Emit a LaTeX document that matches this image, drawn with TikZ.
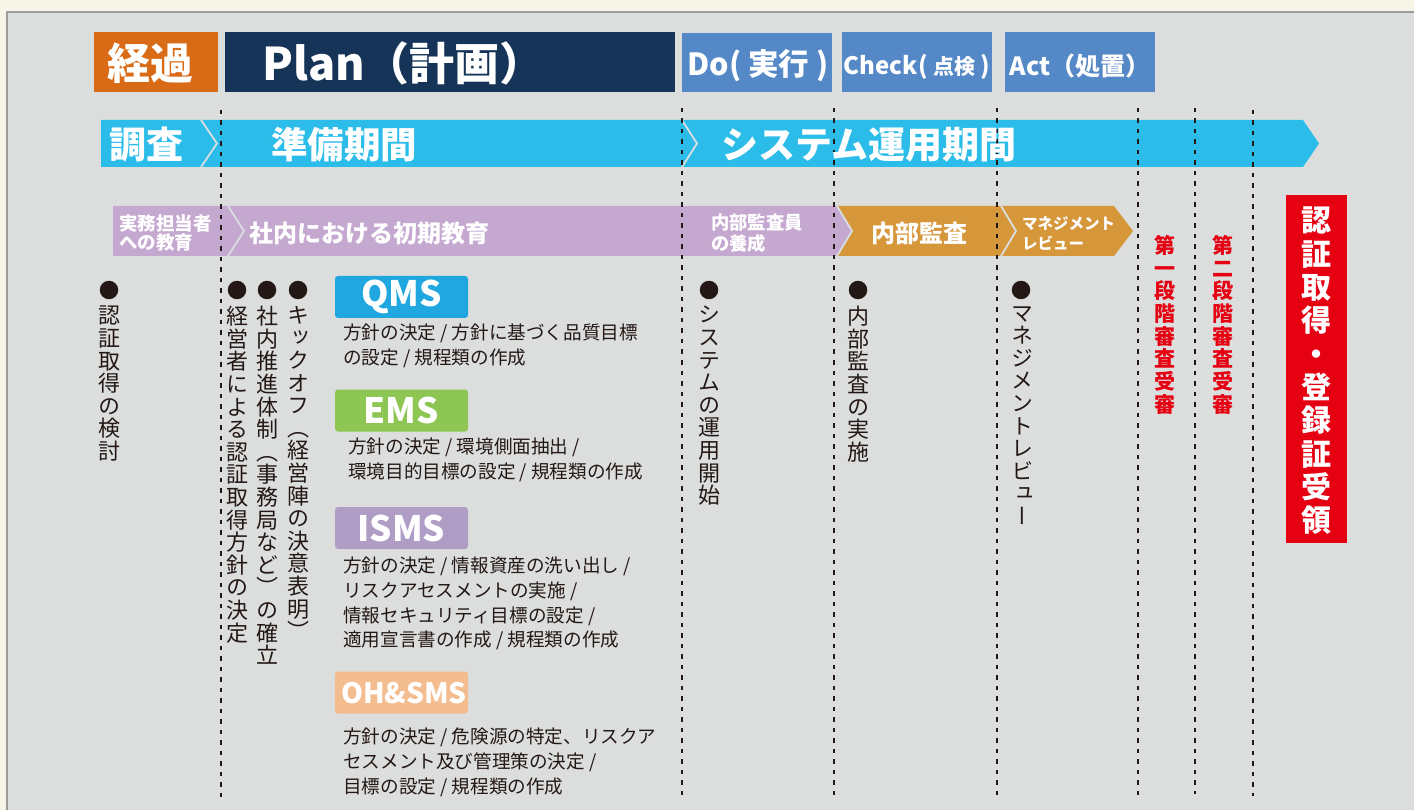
\documentclass[tikz,border=0pt]{standalone}
\usepackage{fontspec}
\setmainfont{Noto Sans CJK JP}
\newfontfamily\vjp{Noto Sans CJK JP}[RawFeature=+vert]
\definecolor{cream}{HTML}{F7F5E7}
\definecolor{panel}{HTML}{DCDEDD}
\definecolor{pborder}{HTML}{9C9C9A}
\definecolor{korange}{HTML}{DA6B16}
\definecolor{navy}{HTML}{163458}
\definecolor{pdcablue}{HTML}{5588C7}
\definecolor{cyanbar}{HTML}{2CBCEA}
\definecolor{purplebar}{HTML}{C5A8D0}
\definecolor{orangebar}{HTML}{D6963A}
\definecolor{sepcol}{HTML}{D9DEE0}
\definecolor{ink}{HTML}{231815}
\definecolor{qmscol}{HTML}{20A7DF}
\definecolor{emscol}{HTML}{8DC653}
\definecolor{ismscol}{HTML}{AF9DC6}
\definecolor{ohscol}{HTML}{F4BD8F}
\definecolor{certred}{HTML}{E50012}
\makeatletter
\newcommand\vstack[2]{\vbox{\baselineskip=#1\relax\lineskip=0pt\lineskiplimit=-\maxdimen\vstack@#2\relax}}
\def\vstack@#1{\ifx\relax#1\else\hbox to 1em{\hss#1\hss}\expandafter\vstack@\fi}
\makeatother
\newcommand\fs[2]{\fontsize{#1}{#2}\selectfont}
\begin{document}
\begin{tikzpicture}[x=1pt,y=-1pt,
  hdrbox/.style={draw=none,inner sep=0pt,minimum height=60pt},
  hdrtext/.style={inner sep=0pt,text=white,font=\bfseries},
  bartext/.style={inner sep=0pt,text=white,anchor=west,align=left,font=\bfseries},
  dline/.style={ink,line width=2.4pt,dash pattern=on 4.5pt off 6pt},
  sepline/.style={sepcol,line width=1.8pt},
  bulletdot/.style={circle,fill=ink,inner sep=0pt,minimum size=18.5pt},
  vlabel/.style={inner sep=0pt,anchor=north,text=ink},
  redlabel/.style={inner sep=0pt,anchor=north,text=certred},
  sysbox/.style={rounded corners=3pt,inner sep=0pt,minimum width=133pt,minimum height=42pt,text=white,font=\bfseries\fs{35}{35}},
  desc/.style={inner sep=0pt,anchor=north west,align=left,text=ink,font=\fs{18.6}{24.6}}
]
\useasboundingbox (0,0) rectangle (1414,810);
\fill[cream] (0,0) rectangle (1414,810);
\fill[panel] (7,12) rectangle (1414,810);
\draw[pborder,line width=2pt] (7,810) -- (7,12) -- (1414,12);

% header boxes
\node[hdrbox,fill=korange,minimum width=124pt] (keika) at (156,62) {};
\node[hdrtext,font=\bfseries\fs{43}{43}] (keikat) at (150,63) {経過};
\node[hdrbox,fill=navy,minimum width=450pt] (plan) at (450,62) {};
\node[hdrtext,anchor=west,font=\bfseries\fs{45}{45}] (plant) at (262,63) {Plan（計画）};
\node[hdrbox,fill=pdcablue,minimum width=150pt,minimum height=59pt] (do) at (757,62.5) {};
\node[hdrtext,font=\bfseries\fs{30.5}{30.5}] (dot) at (758,66) {Do( 実行 )};
\node[hdrbox,fill=pdcablue,minimum width=150pt] (check) at (917,62) {};
\node[hdrtext,font=\bfseries\fs{24}{24}] (checkt) at (917,67) {Check( {\fs{21}{21}点検} )};
\node[hdrbox,fill=pdcablue,minimum width=150pt] (act) at (1080,62) {};
\node[hdrtext,font=\bfseries\fs{25}{25}] (actt) at (1080,66) {Act（処置）};

% bars
\fill[cyanbar] (101,120) -- (1303,120) -- (1319,143.5) -- (1303,167) -- (101,167) -- cycle;
\draw[sepline] (201,120) -- (217,143.5) -- (201,167);
\draw[sepline] (682,120) -- (697,143.5) -- (682,167);

\fill[purplebar] (113,206) -- (837,206) -- (852,231) -- (837,256) -- (113,256) -- cycle;
\fill[orangebar] (837,206) -- (1001,206) -- (1016,231) -- (1001,256) -- (837,256) -- (852,231) -- cycle;
\fill[orangebar] (1001,206) -- (1114,206) -- (1133,231) -- (1114,256) -- (1001,256) -- (1016,231) -- cycle;
\draw[sepline] (228,206) -- (244,231) -- (228,256);
\draw[sepline] (837,206) -- (852,231) -- (837,256);
\draw[sepline] (1001,206) -- (1016,231) -- (1001,256);

% dashed lines
\foreach \x/\a/\b in {221/110/798, 682/108/798, 834/108/798, 997/108/798, 1138/108/796, 1195/108/794, 1253/110/796}
  \draw[dline] (\x,\a) -- (\x,\b);

% bar texts
\node[bartext,font=\bfseries\fs{37}{37}] (chosa) at (109,145) {調査};
\node[bartext,font=\bfseries\fs{36.5}{36.5}] (junbi) at (271,145) {準備期間};
\node[bartext,font=\bfseries\fs{37}{37}] (unyo) at (721,145) {システム運用期間};
\node[bartext,font=\bfseries\fs{18.5}{19.5}] (jitsumu) at (119,233) {実務担当者\\への教育};
\node[bartext,font=\bfseries\fs{24}{24}] (shanai) at (249,233) {社内における初期教育};
\node[bartext,font=\bfseries\fs{18.3}{21}] (yosei) at (711,233) {内部監査員\\の養成};
\node[bartext,font=\bfseries\fs{24}{24}] (kansa) at (871,233) {内部監査};
\node[bartext,font=\bfseries\fs{15.5}{20}] (review) at (1022,234) {マネジメント\\レビュー};

% bullets
\foreach \x [count=\i] in {109,237,267,298,709,858,1021}
  \node[bulletdot] (b\i) at (\x,290) {};

% vertical labels
\node[vlabel] (v1) at (109,306) {\vjp\fs{22}{22.6}\vstack{22.6pt}{認証取得の検討}};
\node[vlabel] (v2) at (237,306) {\vjp\fs{22}{22.6}\vstack{22.6pt}{経営者による認証取得方針の決定}};
\node[vlabel] (v3) at (267,306) {\vjp\fs{22}{22.6}\vstack{22.6pt}{社内推進体制（事務局など）の確立}};
\node[vlabel] (v4) at (298,306) {\vjp\fs{22}{22.6}\vstack{22.6pt}{キックオフ（経営陣の決意表明）}};
\node[vlabel] (v5) at (709,306) {\vjp\fs{22}{22.6}\vstack{22.6pt}{システムの運用開始}};
\node[vlabel] (v6) at (858,306) {\vjp\fs{22}{22.6}\vstack{22.6pt}{内部監査の実施}};
\node[vlabel] (v7) at (1022,306) {\vjp\fs{22}{22.6}\vstack{22.6pt}{マネジメントレビュー}};

\node[redlabel] (r1) at (1165,235) {\vjp\bfseries\fs{21}{22.7}\vstack{22.7pt}{第一段階審査受審}};
\node[redlabel] (r2) at (1223,235) {\vjp\bfseries\fs{21}{22.7}\vstack{22.7pt}{第二段階審査受審}};
\node[fill=certred,inner sep=0pt,minimum width=61pt,minimum height=348pt] (cert) at (1316.5,369) {};
\node[inner sep=0pt,anchor=north,text=white] (certt) at (1316.5,207) {\vjp\bfseries\fs{30}{33.3}\vstack{33.3pt}{認証取得・登録証受領}};

% system boxes
\node[sysbox,fill=qmscol] (qms) at (401.5,297) {QMS};
\node[desc] (qmsd) at (343,324) {方針の決定 / 方針に基づく品質目標\\の設定 / 規程類の作成};
\node[sysbox,fill=emscol] (ems) at (401.5,410.5) {EMS};
\node[desc] (emsd) at (348,438) {方針の決定 / 環境側面抽出 /\\環境目的目標の設定 / 規程類の作成};
\node[sysbox,fill=ismscol] (isms) at (401.5,528) {ISMS};
\node[desc] (ismsd) at (343,557) {方針の決定 / 情報資産の洗い出し /\\リスクアセスメントの実施 /\\情報セキュリティ目標の設定 /\\適用宣言書の作成 / 規程類の作成};
\node[sysbox,fill=ohscol] (ohs) at (401.5,692.5) {};
\node[inner sep=0pt,anchor=west,text=white,font=\bfseries\fs{28}{28}] (ohst) at (341,693) {OH\&SMS};
\node[desc] (ohsd) at (343,728) {方針の決定 / 危険源の特定、リスクア\\セスメント及び管理策の決定 /\\目標の設定 / 規程類の作成};
\end{tikzpicture}
\end{document}
